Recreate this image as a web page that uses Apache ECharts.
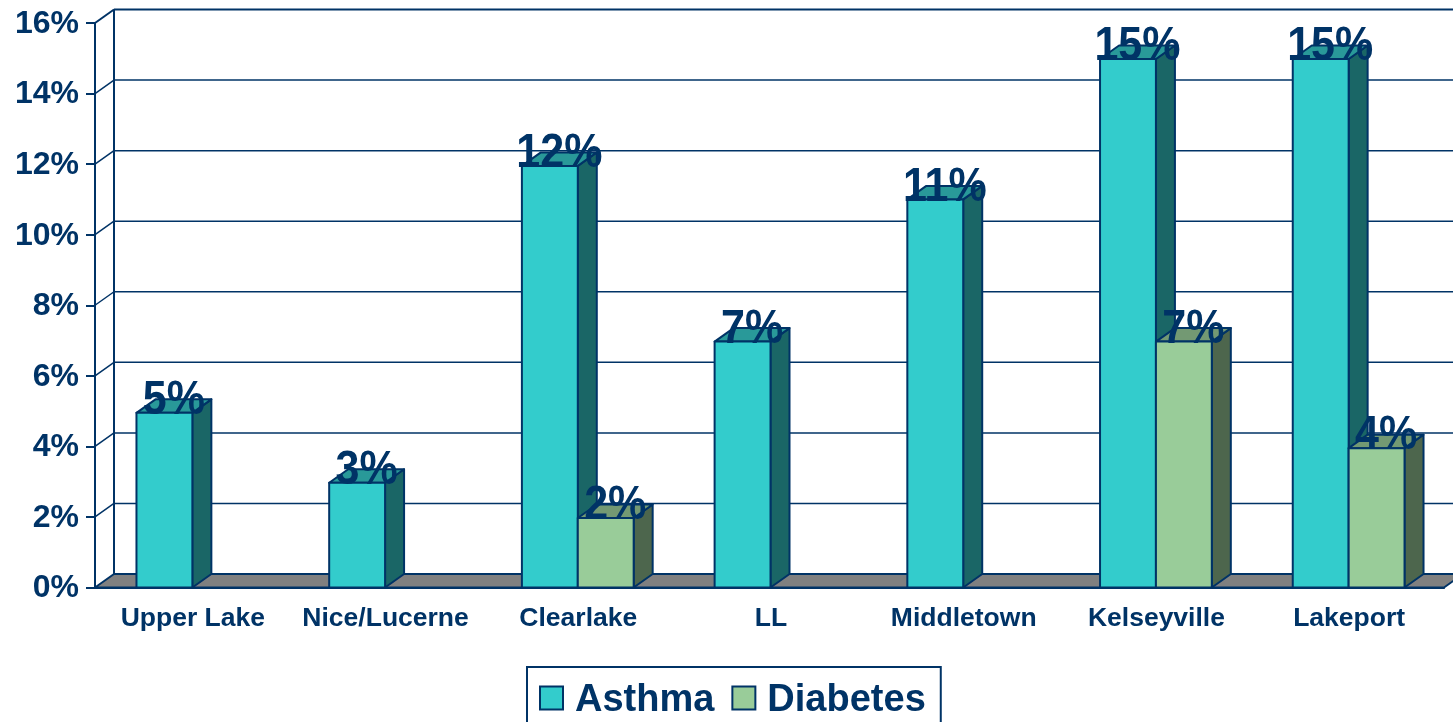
<!DOCTYPE html>
<html><head><meta charset="utf-8">
<style>html,body{margin:0;padding:0;background:#fff;overflow:hidden}#c{width:1453px;height:722px}</style>
<script src="https://cdn.jsdelivr.net/npm/echarts@6/dist/echarts.min.js"></script>
</head><body><div id="c"></div>
<script>
const categories = ['Upper Lake','Nice/Lucerne','Clearlake','LL','Middletown','Kelseyville','Lakeport'];
const asthma = [4.95, 2.97, 11.95, 6.97, 11, 14.98, 14.98];
const diabetes = [null, null, 1.97, null, null, 6.97, 3.95];
const yTicks = [0,2,4,6,8,10,12,14,16];

const INK = '#003366', FONT = '"Liberation Sans", Arial, sans-serif';
const DX = 19, DY = 13.5, BAR = 0.29, NUDGE = 1;

function poly(points, fill, lw) {
  return {type:'polygon', shape:{points}, style:{fill, stroke:INK, lineWidth:lw===undefined?2:lw, lineJoin:'round'}};
}
function barRender(front, side, top, slot) {
  return function (params, api) {
    const cat = api.value(0), v = api.value(1);
    const c = api.coord([cat, v]), b = api.coord([cat, 0]);
    const w = api.size([1, 0])[0] * BAR;
    const x0 = c[0] + slot * w + NUDGE, x1 = x0 + w, yT = c[1], yB = b[1];
    return {type:'group', children:[
      poly([[x1,yB],[x1+DX,yB-DY],[x1+DX,yT-DY],[x1,yT]], side),
      poly([[x0,yT],[x0+DX,yT-DY],[x1+DX,yT-DY],[x1,yT]], top),
      poly([[x0,yB],[x1,yB],[x1,yT],[x0,yT]], front),
      {type:'text', z2:100, x:(x0+x1+DX)/2, y:yT+12, scaleY:1.12,
        style:{text:Math.round(v)+'%', x:0, y:0,
        align:'center', verticalAlign:'bottom', fill:INK, font:'bold 43px '+FONT}}
    ]};
  };
}
function toData(arr){ return arr.map((v,i)=>[i,v]).filter(d=>d[1]!==null); }

const chart = echarts.init(document.getElementById('c'));
chart.setOption({
  animation:false, backgroundColor:'#fff',
  textStyle:{fontFamily:FONT},
  grid:{left:95, right:9, top:23, bottom:134.5, containLabel:false},
  legend:{data:['Asthma','Diabetes'], left:527, top:667, orient:'horizontal', icon:'rect',
    itemWidth:23, itemHeight:23, itemGap:17, padding:[15,15,9,12],
    borderColor:INK, borderWidth:2, backgroundColor:'#fff',
    itemStyle:{borderColor:INK, borderWidth:2},
    formatter:'{t|{name}}',
    textStyle:{color:INK, fontSize:38, fontWeight:'bold', fontFamily:FONT, padding:[0,0,0,7],
      rich:{t:{color:INK, fontSize:38, fontWeight:'bold', fontFamily:FONT, padding:[6,0,0,0]}}}},
  xAxis:{type:'category', data:categories,
    axisLine:{lineStyle:{color:INK,width:2}}, axisTick:{length:8,lineStyle:{color:INK,width:2}},
    axisLabel:{interval:0, margin:18, color:INK, fontSize:26.5, fontWeight:'bold', fontFamily:FONT, padding:[0,0,0,3]}, splitLine:{show:false}},
  yAxis:{type:'value', min:0, max:16, interval:2,
    axisLine:{show:true,lineStyle:{color:INK,width:2}}, axisTick:{show:true,length:9,lineStyle:{color:INK,width:2}},
    axisLabel:{margin:16, color:INK, fontSize:32, fontWeight:'bold', fontFamily:FONT, formatter:'{t|{value}%}',
      rich:{t:{color:INK, fontSize:32, fontWeight:'bold', fontFamily:FONT, padding:[2,0,0,0]}}},
    splitLine:{show:false}},
  series:[
    {type:'custom', name:'Wall', z:1, silent:true, clip:false, coordinateSystem:'cartesian2d',
      data:yTicks.map(t=>[0,t]), encode:{x:0,y:1},
      renderItem(params, api){
        const t = api.value(1), cs = params.coordSys;
        const y = api.coord([0,t])[1], xL = cs.x, xR = cs.x+cs.width;
        const kids = [];
        if (t===0) {
          kids.push(poly([[xL,y],[xL+DX,y-DY],[xR+DX,y-DY],[xR,y]], '#808080'));
          const top = api.coord([0,yTicks[yTicks.length-1]])[1];
          kids.push({type:'line', shape:{x1:xL+DX,y1:y-DY,x2:xL+DX,y2:top-DY}, style:{stroke:INK,lineWidth:2}});
        } else {
          const lw = t===yTicks[yTicks.length-1] ? 2 : 1.5;
          kids.push({type:'line', shape:{x1:xL,y1:y,x2:xL+DX,y2:y-DY}, style:{stroke:INK,lineWidth:lw}});
          kids.push({type:'line', shape:{x1:xL+DX,y1:y-DY,x2:xR+DX,y2:y-DY}, style:{stroke:INK,lineWidth:lw}});
        }
        return {type:'group', children:kids};
      }},
    {type:'custom', name:'Asthma', z:3, clip:false, itemStyle:{color:'#33CCCC'},
      data:toData(asthma), encode:{x:0,y:1}, renderItem:barRender('#33CCCC','#1A6666','#299999',-1)},
    {type:'custom', name:'Diabetes', z:4, clip:false, itemStyle:{color:'#99CC99'},
      data:toData(diabetes), encode:{x:0,y:1}, renderItem:barRender('#99CC99','#4D664D','#739973',0)}
  ]
});
</script></body></html>
